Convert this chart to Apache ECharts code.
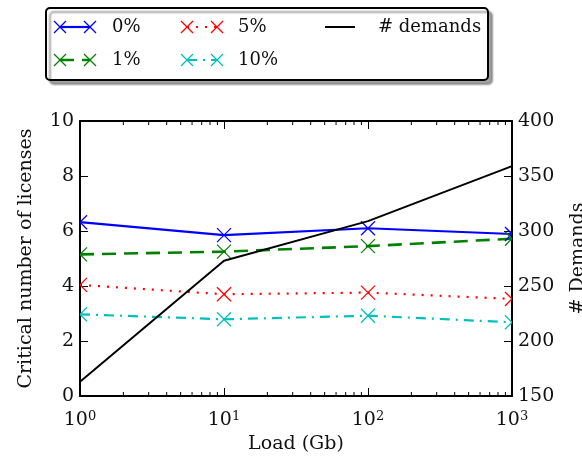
<!DOCTYPE html>
<html>
<head>
<meta charset="utf-8">
<script src="https://cdn.jsdelivr.net/npm/echarts@6/dist/echarts.min.js"></script>
<style>
  html, body {margin: 0; padding: 0; background: #fff;}
  #chart {width: 582px; height: 462px;}
</style>
</head>
<body>
<div id="chart"></div>
<script>
// values
const loads = [1, 10, 100, 1000];
const pct0 = [6.32, 5.85, 6.10, 5.89];
const pct1 = [5.15, 5.25, 5.45, 5.72];
const pct5 = [4.04, 3.70, 3.76, 3.53];
const pct10 = [2.97, 2.79, 2.92, 2.68];
const demands = [163, 273, 309, 359];
const minorTicks = [2, 3, 4, 5, 6, 7, 8, 9, 20, 30, 40, 50, 60, 70, 80, 90, 200, 300, 400, 500, 600, 700, 800, 900];

const FONT = 'DejaVu Serif';
const TXT = '#111';

const chart = echarts.init(document.getElementById('chart'));

const pairs = ys => loads.map((x, i) => [x, ys[i]]);

const styles = [
    {name: '0%', data: pct0, color: '#0000ff', width: 2.2, dash: 'solid'},
    {name: '1%', data: pct1, color: '#008000', width: 2.6, dash: [14, 8]},
    {name: '5%', data: pct5, color: '#ff0000', width: 2.2, dash: [2, 7]},
    {name: '10%', data: pct10, color: '#00bfbf', width: 2.2, dash: [10, 6, 2, 6]},
];

function crossRender(color, s) {
    return function (params, api) {
        const p = api.coord([api.value(0), api.value(1)]);
        const st = {stroke: color, lineWidth: 1.3};
        return {
            type: 'group', children: [
                {type: 'line', shape: {x1: p[0] - s, y1: p[1] - s, x2: p[0] + s, y2: p[1] + s}, style: st},
                {type: 'line', shape: {x1: p[0] - s, y1: p[1] + s, x2: p[0] + s, y2: p[1] - s}, style: st}
            ]
        };
    };
}

const series = [];
styles.forEach(s => {
    series.push({
        name: s.name, type: 'line', data: pairs(s.data), showSymbol: false,
        lineStyle: {color: s.color, width: s.width, type: s.dash}, z: 3, silent: true
    });
    series.push({
        type: 'custom', data: pairs(s.data), renderItem: crossRender(s.color, 7),
        encode: {x: 0, y: 1}, clip: true, z: 4, silent: true
    });
});
series.push({
    name: '# demands', type: 'line', yAxisIndex: 1, data: pairs(demands), showSymbol: false,
    lineStyle: {color: '#000', width: 2}, z: 5, silent: true
});
// minor ticks of the log axis, bottom and top spines
series.push({
    type: 'custom', data: minorTicks.map(v => [v]), silent: true, z: 6,
    renderItem: function (params, api) {
        const b = api.coord([api.value(0), 0]);
        const t = api.coord([api.value(0), 10]);
        const st = {stroke: '#000', lineWidth: 1};
        return {
            type: 'group', children: [
                {type: 'line', shape: {x1: b[0], y1: b[1], x2: b[0], y2: b[1] - 4}, style: st},
                {type: 'line', shape: {x1: t[0], y1: t[1], x2: t[0], y2: t[1] + 4}, style: st}
            ]
        };
    },
    encode: {x: 0}
});

// legend drawn like the matplotlib one
const legendPos = [
    {x: 55, y: 27, tx: 112}, {x: 55, y: 60, tx: 112},
    {x: 182, y: 27, tx: 238}, {x: 182, y: 60, tx: 238}
];
const legendFont = '18px "' + FONT + '"';
const legendGraphics = [{
    type: 'rect', shape: {x: 46, y: 8, width: 442, height: 72, r: 4},
    style: {fill: '#fff', stroke: '#000', lineWidth: 2, shadowColor: 'rgba(0,0,0,0.35)', shadowOffsetX: 4, shadowOffsetY: 4, shadowBlur: 2}
}];
styles.forEach((s, i) => {
    const p = legendPos[i];
    const ls = {stroke: s.color, lineWidth: s.width, lineDash: s.dash === 'solid' ? null : s.dash};
    legendGraphics.push({type: 'line', shape: {x1: p.x + 5, y1: p.y, x2: p.x + 35, y2: p.y}, style: ls});
    [p.x + 5, p.x + 35].forEach(cx => {
        const st = {stroke: s.color, lineWidth: 1.3};
        legendGraphics.push({type: 'line', shape: {x1: cx - 6, y1: p.y - 6, x2: cx + 6, y2: p.y + 6}, style: st});
        legendGraphics.push({type: 'line', shape: {x1: cx - 6, y1: p.y + 6, x2: cx + 6, y2: p.y - 6}, style: st});
    });
    legendGraphics.push({
        type: 'text', x: p.tx, y: p.y,
        style: {text: s.name, font: legendFont, fill: TXT, verticalAlign: 'middle'}
    });
});
legendGraphics.push({type: 'line', shape: {x1: 325, y1: 27, x2: 355, y2: 27}, style: {stroke: '#000', lineWidth: 2}});
legendGraphics.push({
    type: 'text', x: 378, y: 27,
    style: {text: '# demands', font: legendFont, fill: TXT, verticalAlign: 'middle'}
});

const supLabel = v => '{b|10}{s|' + Math.round(Math.log10(v)) + '}';
const labelRich = {
    b: {fontFamily: FONT, fontSize: 19, color: TXT},
    s: {fontFamily: FONT, fontSize: 13, color: TXT, padding: [0, 0, 7, 0]}
};

const option = {
    animation: false,
    backgroundColor: '#fff',
    grid: {left: 80, right: 70, top: 121, bottom: 66, outerBoundsMode: 'none', containLabel: false},
    xAxis: [{
        type: 'log', logBase: 10, min: 1, max: 1000,
        name: 'Load (Gb)', nameLocation: 'middle', nameGap: 38,
        nameTextStyle: {fontFamily: FONT, fontSize: 19, color: TXT},
        axisLine: {lineStyle: {color: '#000', width: 2}},
        axisTick: {inside: true, length: 8, lineStyle: {color: '#000', width: 1}},
        axisLabel: {formatter: supLabel, rich: labelRich, margin: 14},
        splitLine: {show: false}
    }, {
        type: 'log', logBase: 10, min: 1, max: 1000, position: 'top',
        axisLine: {lineStyle: {color: '#000', width: 2}},
        axisTick: {inside: true, length: 8, lineStyle: {color: '#000', width: 1}},
        axisLabel: {show: false}, splitLine: {show: false}
    }],
    yAxis: [{
        type: 'value', min: 0, max: 10, interval: 2,
        name: 'Critical number of licenses', nameLocation: 'middle', nameGap: 44, nameRotate: 90,
        nameTextStyle: {fontFamily: FONT, fontSize: 19, color: TXT},
        axisLine: {show: true, lineStyle: {color: '#000', width: 2}},
        axisTick: {show: true, inside: true, length: 8, lineStyle: {color: '#000', width: 1}},
        axisLabel: {fontFamily: FONT, fontSize: 19, color: TXT, margin: 6},
        splitLine: {show: false}
    }, {
        type: 'value', min: 150, max: 400, interval: 50, position: 'right',
        name: '# Demands', nameLocation: 'middle', nameGap: 57, nameRotate: 90,
        nameTextStyle: {fontFamily: FONT, fontSize: 19, color: TXT},
        axisLine: {show: true, lineStyle: {color: '#000', width: 2}},
        axisTick: {show: true, inside: true, length: 8, lineStyle: {color: '#000', width: 1}},
        axisLabel: {fontFamily: FONT, fontSize: 19, color: TXT, margin: 6},
        splitLine: {show: false}
    }],
    graphic: legendGraphics,
    series: series
};

chart.setOption(option);
</script>
</body>
</html>
